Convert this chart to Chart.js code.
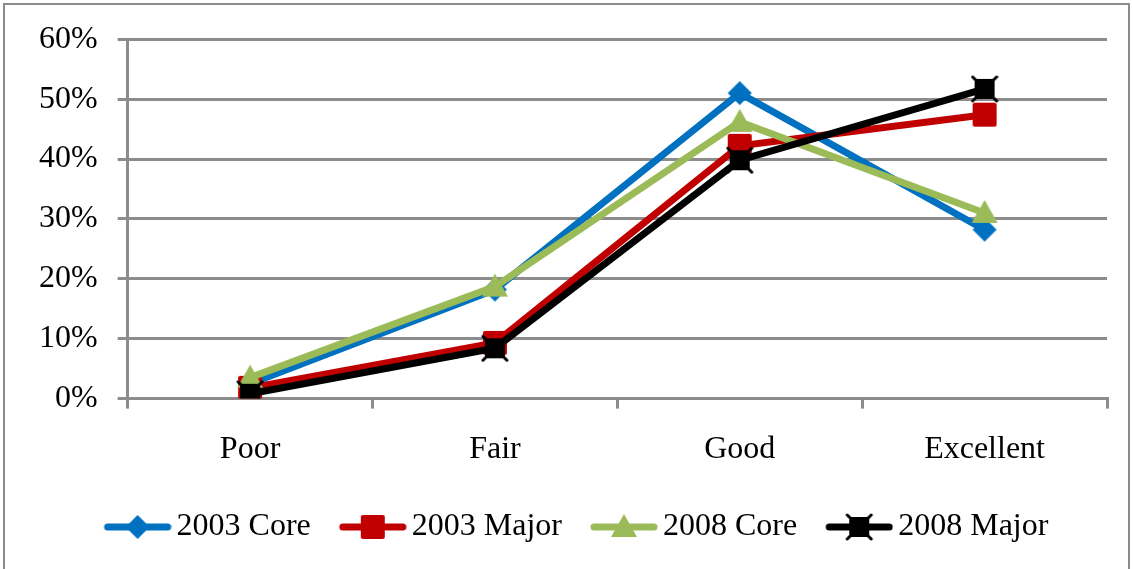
<!DOCTYPE html>
<html>
<head>
<meta charset="utf-8">
<script src="https://cdn.jsdelivr.net/npm/chart.js@4.4.1/dist/chart.umd.min.js"></script>
<style>
  html, body { margin: 0; padding: 0; background: #fff; }
  #wrap { width: 1133px; height: 569px; position: relative; }
</style>
</head>
<body>
<div id="wrap"><canvas id="chart" width="1133" height="569"></canvas></div>
<script>
const categories = ['Poor', 'Fair', 'Good', 'Excellent'];
const core2003 = [2.5, 18.2, 51.0, 28.2];
const major2003 = [1.8, 9.3, 42.2, 47.4];
const core2008 = [3.5, 18.7, 46.2, 31.0];
const major2008 = [0.8, 8.4, 39.8, 51.7];
const yTicks = [0, 10, 20, 30, 40, 50, 60];

const FONT = "'Liberation Serif', 'Times New Roman', serif";

// marker shapes, drawn onto small canvases so chart and legend match
function marker(kind, color) {
  const c = document.createElement('canvas');
  c.width = 28; c.height = 28;
  const g = c.getContext('2d');
  drawMarker(g, kind, color, 14, 14);
  return c;
}

function drawMarker(g, kind, color, x, y) {
  g.fillStyle = color;
  g.strokeStyle = color;
  g.lineJoin = 'round';
  if (kind === 'diamond') {
    g.beginPath();
    g.moveTo(x, y - 12); g.lineTo(x + 12, y); g.lineTo(x, y + 12); g.lineTo(x - 12, y);
    g.closePath(); g.fill();
  } else if (kind === 'square') {
    g.beginPath();
    g.roundRect(x - 12, y - 12, 24, 24, 2);
    g.fill();
  } else if (kind === 'triangle') {
    g.beginPath();
    g.moveTo(x, y - 13); g.lineTo(x + 13, y + 10); g.lineTo(x - 13, y + 10);
    g.closePath(); g.fill();
  } else if (kind === 'xsquare') {
    g.fillRect(x - 10, y - 10, 20, 20);
    g.lineWidth = 3; g.lineCap = 'round';
    g.beginPath();
    g.moveTo(x - 12, y - 12); g.lineTo(x + 12, y + 12);
    g.moveTo(x + 12, y - 12); g.lineTo(x - 12, y + 12);
    g.stroke();
  }
}

// legend icon: line + marker, with blank room on the left to space items out
const ICON_GAP = 19;
function legendIcon(kind, color) {
  const c = document.createElement('canvas');
  c.width = 68 + ICON_GAP; c.height = 28;
  const g = c.getContext('2d');
  g.strokeStyle = color; g.lineWidth = 7; g.lineCap = 'round';
  g.beginPath(); g.moveTo(ICON_GAP + 4, 14); g.lineTo(ICON_GAP + 64, 14); g.stroke();
  drawMarker(g, kind, color, ICON_GAP + 34, 14);
  return c;
}

const series = [
  { label: '2003 Core', data: core2003, color: '#0070c0', kind: 'diamond' },
  { label: '2003 Major', data: major2003, color: '#c00000', kind: 'square' },
  { label: '2008 Core', data: core2008, color: '#9bbb59', kind: 'triangle' },
  { label: '2008 Major', data: major2008, color: '#000000', kind: 'xsquare' }
];

const frame = {
  id: 'frame',
  afterLayout(chart) {
    // legend sits a little right of centre in the original
    chart.legend.left += 9;
    chart.legend.right += 9;
  },
  afterDraw(chart) {
    const ctx = chart.ctx;
    ctx.save();
    ctx.strokeStyle = '#8c8c8c';
    ctx.lineWidth = 2;
    ctx.strokeRect(4, 4, 1125, 570);
    ctx.restore();
  }
};

new Chart(document.getElementById('chart'), {
  type: 'line',
  data: {
    labels: categories,
    datasets: series.map((s, i) => ({
      label: s.label,
      data: s.data,
      order: series.length - i,
      borderColor: s.color,
      backgroundColor: s.color,
      borderWidth: 7,
      pointStyle: marker(s.kind, s.color),
      legendIcon: legendIcon(s.kind, s.color),
      tension: 0
    }))
  },
  options: {
    responsive: false,
    animation: false,
    layout: { padding: { left: 19, right: 26, top: 28, bottom: 16 } },
    plugins: {
      tooltip: { enabled: false },
      legend: {
        position: 'bottom',
        labels: {
          color: '#000',
          font: { family: FONT, size: 32 },
          usePointStyle: true,
          pointStyleWidth: 46 + ICON_GAP,
          padding: 20,
          generateLabels(chart) {
            return chart.data.datasets.map((d, i) => ({
              text: d.label,
              pointStyle: d.legendIcon,
              fillStyle: d.borderColor,
              strokeStyle: d.borderColor,
              lineWidth: 0,
              datasetIndex: i,
              fontColor: '#000'
            }));
          }
        }
      }
    },
    scales: {
      x: {
        offset: true,
        grid: { drawOnChartArea: false, offset: true, tickLength: 10, color: '#8c8c8c', lineWidth: 3 },
        border: { color: '#8c8c8c', width: 3 },
        ticks: { color: '#000', font: { family: FONT, size: 32 }, padding: 22 }
      },
      y: {
        min: 0,
        max: 60,
        afterBuildTicks(axis) { axis.ticks = yTicks.map(v => ({ value: v })); },
        grid: { color: '#8c8c8c', lineWidth: 3, tickLength: 10 },
        border: { color: '#8c8c8c', width: 3 },
        ticks: { color: '#000', font: { family: FONT, size: 32 }, padding: 20, callback: v => v + '%' }
      }
    }
  },
  plugins: [frame]
});
</script>
</body>
</html>
